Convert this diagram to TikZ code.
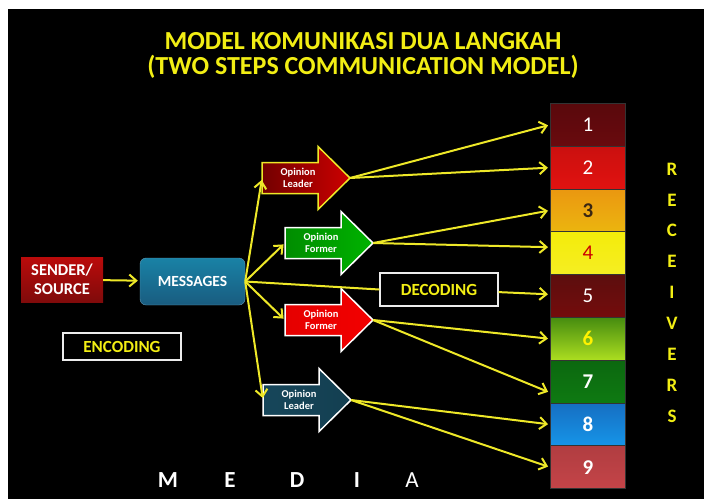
\documentclass[tikz,border=0pt]{standalone}
\usepackage{fontspec}
\setmainfont{Carlito}
\usetikzlibrary{arrows.meta}

\definecolor{titleyellow}{RGB}{242,238,20}
\definecolor{linkyellow}{RGB}{238,232,40}
\definecolor{senderred}{RGB}{170,14,14}
\definecolor{msgblue}{RGB}{30,108,150}
\definecolor{leaderteal}{RGB}{22,70,90}
\definecolor{rone}{RGB}{105,10,14}
\definecolor{rtwo}{RGB}{225,18,16}
\definecolor{rthree}{RGB}{232,168,18}
\definecolor{rfour}{RGB}{244,236,10}
\definecolor{rfive}{RGB}{92,14,14}
\definecolor{rsix}{RGB}{70,140,16}
\definecolor{rsixlight}{RGB}{172,222,32}
\definecolor{rseven}{RGB}{14,122,18}
\definecolor{reight}{RGB}{26,130,228}
\definecolor{rnine}{RGB}{196,68,72}

\tikzset{
  link/.style={draw=linkyellow, line width=2pt, shorten >=2pt,
    -{Straight Barb[length=7pt,width=12pt,line width=2pt]}},
  framebox/.style={draw=white!85!gray, line width=1.2pt, text=titleyellow,
    font=\bfseries\fontsize{17}{17}\selectfont, inner sep=0pt},
  optext/.style={text=white, font=\bfseries\fontsize{10.5}{12}\selectfont,
    align=center, inner sep=0pt},
  recbox/.style={draw=black!80, line width=0.8pt, anchor=north west,
    minimum width=75pt, minimum height=42.8pt, inner sep=0pt,
    font=\fontsize{21}{21}\selectfont},
  pics/opinion/.style n args={4}{code={
    \shadedraw[left color=#1, right color=#2, draw=#3, line width=1.5pt]
      (0,-15.5) -- (56,-15.5) -- (56,-31.5) -- (88,0) -- (56,31.5)
      -- (56,15.5) -- (0,15.5) -- cycle;
    \node[optext] (-text) at (36,0) {#4};
    \coordinate (-tail) at (0,0);
    \coordinate (-tip) at (88,0);
  }}
}

\begin{document}
\begin{tikzpicture}[x=1pt,y=-1pt]
        \useasboundingbox (0,0) rectangle (704,499);
        \fill [white] (0,0) rectangle (704,499);
        \fill [black] (8,9) rectangle (704,499);

        % title
        \node[text=titleyellow, font=\bfseries\fontsize{26}{25}\selectfont, align=center]
          (title) at (363,55) {MODEL KOMUNIKASI DUA LANGKAH\\(TWO STEPS COMMUNICATION MODEL)};

        % sender, messages, encoding
        \node[top color=senderred!80!red, bottom color=senderred!75!black,
          minimum width=82pt, minimum height=45pt, inner sep=0pt, align=center,
          text=white, font=\bfseries\fontsize{16.5}{19}\selectfont]
          (sender) at (62,279.5) {SENDER/\\SOURCE};
        \node[top color=msgblue!85!cyan, bottom color=msgblue!85!black,
          draw=msgblue!70!white, rounded corners=6pt, minimum width=105pt,
          minimum height=47pt, inner sep=0pt, text=white,
          font=\bfseries\fontsize{15.5}{15.5}\selectfont]
          (messages) at (192.5,281.5) {MESSAGES};
        \node[framebox, minimum width=118pt, minimum height=27pt]
          (encoding) at (122,346.5) {ENCODING};
        \node[framebox, minimum width=118pt, minimum height=33pt]
          (decoding) at (439,289.5) {DECODING};

        % opinion arrows
        \pic (ol1) at (262,178) {opinion={red!45!black}{red!80!black}{linkyellow}{Opinion\\Leader}};
        \pic (of1) at (285,243) {opinion={green!55!black}{green!70!black}{white}{Opinion\\Former}};
        \pic (of2) at (285,320) {opinion={red!90!black}{red!95!black}{white}{Opinion\\Former}};
        \pic (ol2) at (263,400) {opinion={leaderteal}{leaderteal!90!black}{white}{Opinion\\Leader}};

        % receivers
        \foreach \i/\topc/\botc/\txtc/\wt in {
            1/rone!85!black/rone/white/\mdseries,
            2/rtwo!90!black/rtwo/white/\mdseries,
            3/rthree!90!red/rthree!85!yellow/black!70!brown/\bfseries,
            4/rfour/rfour!90!white/red!80!black/\mdseries,
            5/rfive/rfive!85!red/white/\mdseries,
            6/rsix/rsixlight/yellow/\bfseries,
            7/rseven!85!black/rseven/white/\bfseries,
            8/reight!85!black/reight!85!cyan/white/\bfseries,
            9/rnine!90!black/rnine/white/\bfseries}
          \node[recbox, top color=\topc, bottom color=\botc, text=\txtc]
            (r\i) at (550,{103+(\i-1)*42.8}) {\wt\i};

        \foreach \ch [count=\k] in {R,E,C,E,I,V,E,R,S}
          \node[text=titleyellow, font=\bfseries\fontsize{19}{19}\selectfont]
            (rec\k) at (672,{169+(\k-1)*30.9}) {\ch};

        % media
        \node[text=white, font=\bfseries\fontsize{23}{23}\selectfont] (m1) at (168,480) {M};
        \node[text=white, font=\bfseries\fontsize{23}{23}\selectfont] (m2) at (230,480) {E};
        \node[text=white, font=\bfseries\fontsize{23}{23}\selectfont] (m3) at (297,480) {D};
        \node[text=white, font=\bfseries\fontsize{23}{23}\selectfont] (m4) at (357,480) {I};
        \node[text=white, font=\fontsize{23}{23}\selectfont] (m5) at (412,480) {A};

        % connectors
        \draw[link] (sender) -- (messages);
        \draw[link] (messages.east) -- (ol1-tail);
        \draw[link] (messages.east) -- (of1-tail);
        \draw[link] (messages.east) -- (of2-tail);
        \draw[link] (messages.east) -- (ol2-tail);
        \draw[linkyellow, line width=2pt] (messages.east) -- (decoding.west);
        \draw[link] (decoding) -- (r5);
        \draw[link] (ol1-tip) -- (r1.west);
        \draw[link] (ol1-tip) -- (r2.west);
        \draw[link] (of1-tip) -- (r3.west);
        \draw[link] (of1-tip) -- ([yshift=6pt]r4.west);
        \draw[link] (of2-tip) -- (r6.west);
        \draw[link] (of2-tip) -- ([yshift=-11pt]r7.west);
        \draw[link] (ol2-tip) -- (r8.west);
        \draw[link] (ol2-tip) -- (r9.west);
\end{tikzpicture}
\end{document}
